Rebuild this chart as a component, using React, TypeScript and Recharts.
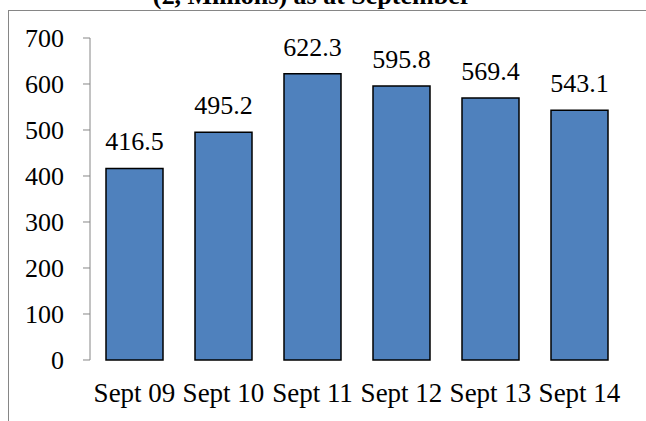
import { BarChart, Bar, XAxis, YAxis, LabelList } from "recharts";

const periods = ["Sept 09", "Sept 10", "Sept 11", "Sept 12", "Sept 13", "Sept 14"];
const values = [416.5, 495.2, 622.3, 595.8, 569.4, 543.1];
const yTicks = [0, 100, 200, 300, 400, 500, 600, 700];
const boundaryTicks = [0, 1, 2, 3, 4, 5, 6];

const data = periods.map((p, i) => ({ period: p, value: values[i] }));

const font = "'Liberation Serif', 'Times New Roman', serif";
const axisGrey = "#868686";

export default function App() {
  return (
    <div>
      <style>{`html, body { overflow: hidden; }`}</style>
      <div
        style={{
          position: "absolute",
          left: 8,
          top: 10,
          width: 700,
          height: 500,
          borderTop: `1px solid ${axisGrey}`,
          borderLeft: `1px solid ${axisGrey}`,
        }}
      />
      <div
        style={{
          position: "absolute",
          left: 112,
          top: -17,
          width: 400,
          textAlign: "center",
          fontFamily: font,
          fontWeight: "bold",
          fontSize: 26,
          lineHeight: "26px",
          whiteSpace: "nowrap",
        }}
      >
        (£, Millions) as at September
      </div>
      <div style={{ position: "absolute", left: 0, top: 0 }}>
        <BarChart
          width={646}
          height={421}
          data={data}
          margin={{ top: 38, right: 22, bottom: 61, left: 0 }}
        >
          {/* category axis carries the labels, edges axis carries the boundary ticks */}
          <XAxis
            xAxisId="cat"
            dataKey="period"
            axisLine={false}
            tickLine={false}
            tickSize={0}
            tickMargin={23}
            height={0.01}
            interval={0}
            tick={{ fill: "#000", fontSize: 27, fontFamily: font }}
          />
          <XAxis
            xAxisId="edges"
            type="number"
            domain={[0, 6]}
            ticks={boundaryTicks}
            allowDataOverflow
            tick={false}
            tickSize={7}
            height={0}
            stroke={axisGrey}
          />
          <YAxis
            width={90}
            domain={[0, 700]}
            ticks={yTicks}
            tickSize={7}
            tickMargin={19}
            stroke={axisGrey}
            tick={{ fill: "#000", fontSize: 26, fontFamily: font }}
          />
          <Bar
            xAxisId="cat"
            dataKey="value"
            fill="#4F81BD"
            stroke="#000"
            strokeWidth={1.5}
            barSize={57}
            isAnimationActive={false}
          >
            <LabelList
              dataKey="value"
              position="top"
              offset={18}
              formatter={(v: number) => v.toFixed(1)}
              style={{ fill: "#000", fontSize: 26, fontFamily: font }}
            />
          </Bar>
        </BarChart>
      </div>
    </div>
  );
}
